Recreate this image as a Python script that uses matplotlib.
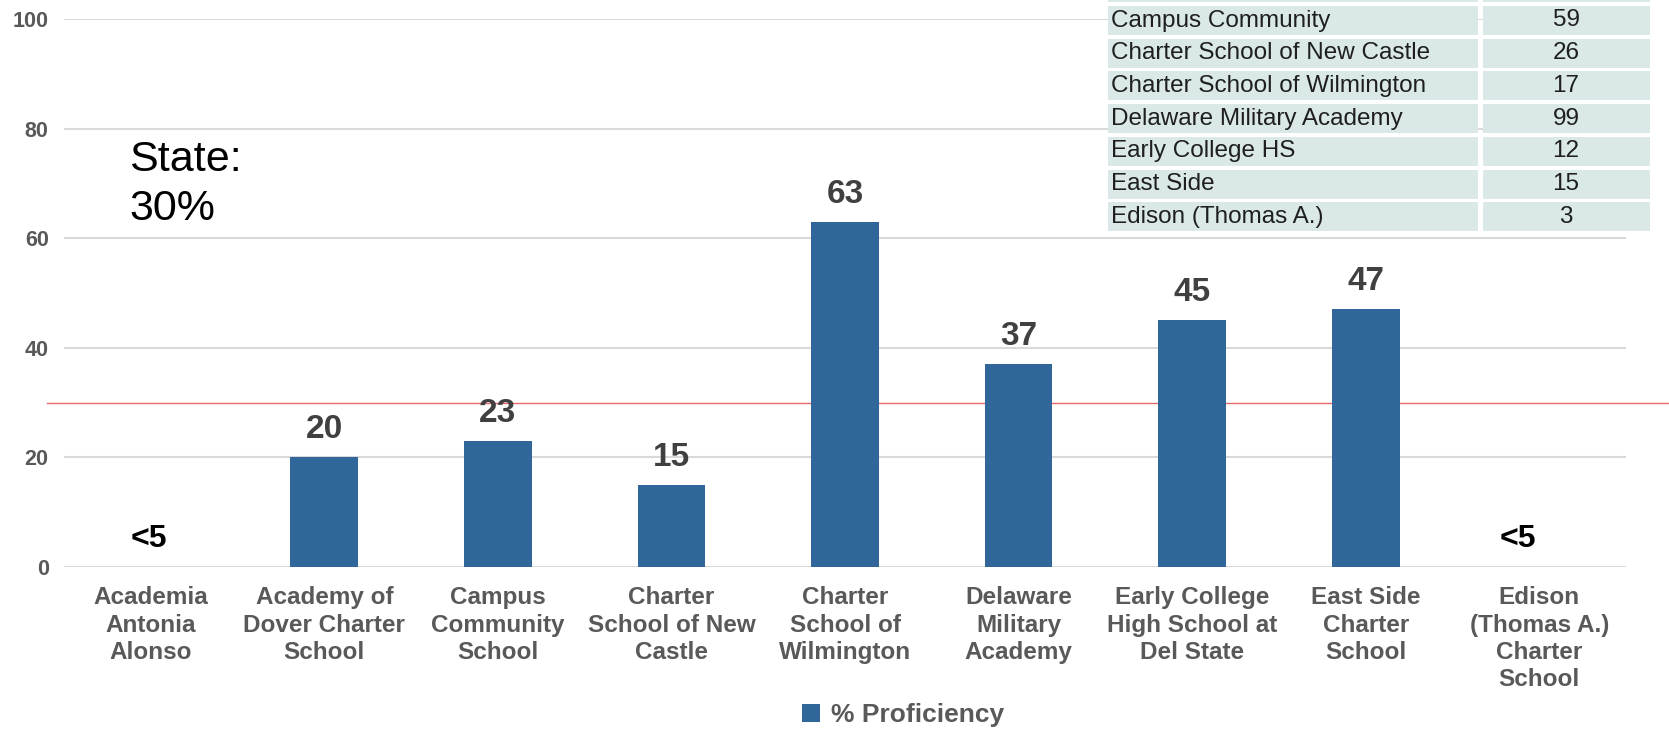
import numpy as np
import matplotlib
matplotlib.use('Agg')
import matplotlib.pyplot as plt
from matplotlib.patches import Rectangle, Patch
from matplotlib.lines import Line2D
import matplotlib.transforms as mtrans

# school results (suppressed values shown as "<5")
schools = ['Academia\nAntonia\nAlonso', 'Academy of\nDover Charter\nSchool',
           'Campus\nCommunity\nSchool', 'Charter\nSchool of New\nCastle',
           'Charter\nSchool of\nWilmington', 'Delaware\nMilitary\nAcademy',
           'Early College\nHigh School at\nDel State', 'East Side\nCharter\nSchool',
           'Edison\n(Thomas A.)\nCharter\nSchool']
proficiency = [0, 20, 23, 15, 63, 37, 45, 47, 0]
bar_labels = ['<5', '20', '23', '15', '63', '37', '45', '47', '<5']
state_avg = 30

# n-count table in the top right
tbl_names = ['', 'Campus Community', 'Charter School of New Castle',
             'Charter School of Wilmington', 'Delaware Military Academy',
             'Early College HS', 'East Side', 'Edison (Thomas A.)']
tbl_counts = ['', '59', '26', '17', '99', '12', '15', '3']

W, H = 1669, 730
blue = '#31669a'
gray = '#595959'

fig = plt.figure(figsize=(W / 100, H / 100), dpi=100)
ax = fig.add_axes([64 / W, (H - 567) / H, (1626 - 64) / W, (567 - 19) / H])

x = np.arange(len(schools))
ax.bar(x, proficiency, width=0.39, color=blue, zorder=3)
ax.set_xlim(-0.5, 8.5)
ax.set_ylim(0, 100)
ax.set_yticks([0, 20, 40, 60, 80, 100])
ax.yaxis.grid(True, color='#d9d9d9', linewidth=1.5, zorder=0)
ax.set_axisbelow(True)
for s in ax.spines.values():
    s.set_visible(False)
ax.tick_params(length=0)
ax.tick_params(axis='y', pad=11)
ax.tick_params(axis='x', pad=14)
ax.set_yticklabels(ax.get_yticks(), fontsize=15.5, fontweight='bold', color=gray,
                   family='Liberation Sans')
ax.set_xticks(x)
ax.set_xticklabels(schools, fontsize=17.5, fontweight='bold', color=gray,
                   family='Liberation Sans', linespacing=1.24, va='top')

# state line runs past the plot to the right edge
tr = mtrans.blended_transform_factory(fig.transFigure, ax.transData)
ax.add_line(Line2D([47 / W, 1.0], [state_avg, state_avg], transform=tr,
                   color='#e8686c', linewidth=1.0, zorder=2, clip_on=False))

for xi, v, lab in zip(x, proficiency, bar_labels):
    if lab.startswith('<'):
        dx = -21 if xi == len(x) - 1 else -2
        ax.annotate(lab, (xi, 5.2), xytext=(dx, 0), textcoords='offset pixels',
                    ha='center', va='center', fontsize=23, fontweight='bold',
                    color='black', family='Liberation Sans')
    else:
        ax.annotate(lab, (xi, v), xytext=(0, 12), textcoords='offset pixels',
                    ha='center', va='bottom', fontsize=24, fontweight='bold',
                    color='#404040', family='Liberation Sans')

fig.text(129 / W, 1 - 140 / H, 'State:\n30%', fontsize=31, va='top', ha='left',
         family='Liberation Sans', linespacing=1.3, color='black')

# table drawn over the chart
row_top0 = -26.7
pitch = 32.7
cell_h = 29
for i, (nm, ct) in enumerate(zip(tbl_names, tbl_counts)):
    top = row_top0 + i * pitch
    y0 = 1 - (top + cell_h) / H
    fig.patches.append(Rectangle((1108 / W, y0), (1478 - 1108) / W, cell_h / H,
                                 transform=fig.transFigure, facecolor='#dae8e8',
                                 edgecolor='none', zorder=5))
    fig.patches.append(Rectangle((1483 / W, y0), (1650 - 1483) / W, cell_h / H,
                                 transform=fig.transFigure, facecolor='#dae8e8',
                                 edgecolor='none', zorder=5))
    yc = 1 - (top + cell_h / 2) / H
    fig.text(1111 / W, yc, nm, fontsize=17.5, va='center', ha='left',
             color='#1f1f1f', family='Liberation Sans', zorder=6)
    fig.text(1566 / W, yc, ct, fontsize=17.5, va='center', ha='center',
             color='#1f1f1f', family='Liberation Sans', zorder=6)

fig.legend(handles=[Patch(facecolor=blue, label='% Proficiency')],
           loc='center', bbox_to_anchor=(903 / W, 1 - 715 / H), frameon=False,
           handlelength=0.7, handleheight=0.7, handletextpad=0.4,
           prop={'family': 'Liberation Sans', 'weight': 'bold', 'size': 19},
           labelcolor=gray)

fig.savefig('out.png', dpi=100)
